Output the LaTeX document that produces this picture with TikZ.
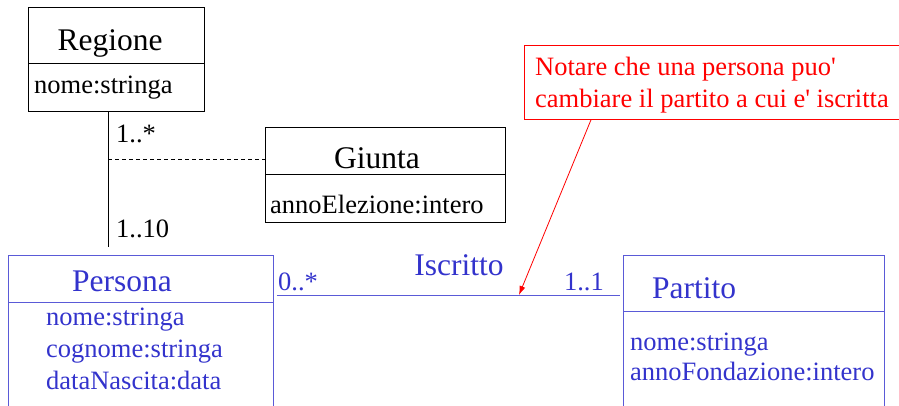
\documentclass[tikz,border=0pt]{standalone}
\usepackage{fontspec}
\setmainfont{Liberation Serif}[Ligatures=TeXOff]
\usetikzlibrary{arrows.meta,calc}
\definecolor{umlblue}{RGB}{51,51,204}
\definecolor{lineblue}{RGB}{90,90,215}
\begin{document}
\begin{tikzpicture}[x=1pt,y=-1pt,
  box/.style={draw, line width=0.8pt, inner sep=0pt, anchor=north west},
  title/.style={font=\fontsize{31.5}{31.5}\selectfont, anchor=base, inner sep=0pt},
  attr/.style={font=\fontsize{26.5}{26.5}\selectfont, anchor=base west, inner sep=0pt},
  blueline/.style={draw=lineblue, line width=0.8pt},
  bluetext/.style={text=umlblue}]
\useasboundingbox (0,0) rectangle (899,405);
\clip (0,0) rectangle (899,405);

% Regione
\node[box, minimum width=176pt, minimum height=104pt] (reg) at (28,7) {};
\draw[line width=0.8pt] ($(reg.north west)+(0,56)$) -- ($(reg.north east)+(0,56)$);
\node[title] (regT) at (110,50) {Regione};
\node[attr] (regA) at (34,93) {nome:stringa};

% Giunta
\node[box, minimum width=240pt, minimum height=95pt] (giu) at (265,127) {};
\draw[line width=0.8pt] ($(giu.north west)+(0,47.5)$) -- ($(giu.north east)+(0,47.5)$);
\node[title] (giuT) at (377,168) {Giunta};
\node[attr] (giuA) at (270,213) {annoElezione:intero};

% Persona
\node[box, blueline, minimum width=265pt, minimum height=200pt] (pers) at (8,255) {};
\draw[blueline] ($(pers.north west)+(0,47.5)$) -- ($(pers.north east)+(0,47.5)$);
\node[title, bluetext] (persT) at (122,291) {Persona};
\node[attr, bluetext] (persA1) at (46,325) {nome:stringa};
\node[attr, bluetext] (persA2) at (46,357) {cognome:stringa};
\node[attr, bluetext] (persA3) at (46,389) {dataNascita:data};

% Partito
\node[box, blueline, minimum width=261pt, minimum height=200pt] (part) at (623,255) {};
\draw[blueline] ($(part.north west)+(0,56)$) -- ($(part.north east)+(0,56)$);
\node[title, bluetext, anchor=base west] (partT) at (652,298) {Partito};
\node[attr, bluetext] (partA1) at (630,350) {nome:stringa};
\node[attr, bluetext] (partA2) at (630,380) {annoFondazione:intero};

% Regione - Persona association
\coordinate (vtop) at ($(reg.south west)+(80,0)$);
\coordinate (vbot) at ($(pers.north west)+(100,-8)$);
\draw[line width=0.8pt] (vtop) -- (vbot);
\node[attr] (m1) at (116,142) {1..*};
\node[attr] (m2) at (116,237) {1..10};
\coordinate (dj) at (108,159);
\draw[line width=0.8pt, dash pattern=on 4pt off 3pt] (dj) -- (dj -| giu.west);

% Iscritto association
\coordinate (aL) at ($(pers.north east)+(3,40)$);
\coordinate (aR) at ($(part.north west)+(-3,40)$);
\draw[blueline] (aL) -- (aR);
\node[attr, bluetext] (mL) at (278,290) {0..*};
\node[title, bluetext] (isc) at (459,275) {Iscritto};
\node[attr, bluetext, anchor=base east] (mR) at (604,290) {1..1};

% Note
\node[box, draw=red, minimum width=390pt, minimum height=74pt] (note) at (524,45) {};
\node[attr, text=red] (n1) at (535,75) {Notare che una persona puo'};
\node[attr, text=red] (n2) at (535,107) {cambiare il partito a cui e' iscritta};
\coordinate (tip) at (519,295);
\draw[red, line width=0.8pt, -{Latex[length=9pt,width=6pt]}] ($(note.south west)+(67,0)$) -- (tip);
\end{tikzpicture}
\end{document}
